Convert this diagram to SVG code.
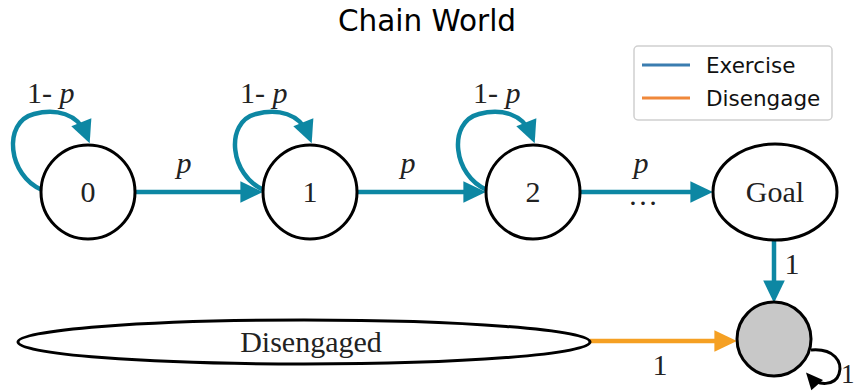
<svg xmlns="http://www.w3.org/2000/svg" width="856" height="392" viewBox="0 0 856 392">
<style>
.node{fill:#fff;stroke:#000;stroke-width:3}
.ex{fill:none;stroke:#0d87a3;stroke-width:4.5}
.dis{fill:none;stroke:#f5a023;stroke-width:4.5}
.blk{fill:none;stroke:#000;stroke-width:3}
.lbl{font-family:"Liberation Serif",serif;font-size:30px;fill:#222}
.it{font-style:italic}
.ttl{font-family:"DejaVu Sans",sans-serif;font-size:29.5px;fill:#000}
.leg{font-family:"DejaVu Sans",sans-serif;font-size:21.5px;fill:#111}
</style>
<defs>
<marker id="ah" markerWidth="6" markerHeight="6" refX="2.8" refY="2.4" orient="auto" markerUnits="strokeWidth" overflow="visible"><path d="M0,0 L5,2.4 L0,4.8 z" fill="#0d87a3"/></marker>
<marker id="ahO" markerWidth="6" markerHeight="6" refX="2.8" refY="2.4" orient="auto" markerUnits="strokeWidth" overflow="visible"><path d="M0,0 L5,2.4 L0,4.8 z" fill="#f5a023"/></marker>
<marker id="ahK" markerWidth="7" markerHeight="7" refX="3.6" refY="2.6" orient="auto" markerUnits="strokeWidth" overflow="visible"><path d="M0,0 L5.6,2.6 L0,5.2 z" fill="#000"/></marker>
</defs>
<text class="ttl" x="427" y="31" text-anchor="middle">Chain World</text>
<g id="connectors">
<path class="ex" d="M135,192 L253,192" marker-end="url(#ah)"/>
<path class="ex" d="M358,192 L476,192" marker-end="url(#ah)"/>
<path class="ex" d="M581,192 L703,192" marker-end="url(#ah)"/>
<path class="ex" d="M42,190 C8,176 2,122 34,114 C56,108 78,114 86,134" marker-end="url(#ah)"/>
<path class="ex" d="M264,190 C230,176 224,122 256,114 C278,108 300,114 308,134" marker-end="url(#ah)"/>
<path class="ex" d="M487,190 C453,176 447,122 479,114 C501,108 523,114 531,134" marker-end="url(#ah)"/>
<path class="ex" d="M774,240 L774,293" marker-end="url(#ah)"/>
<path class="dis" d="M590,341 L727,341" marker-end="url(#ahO)"/>
<path class="blk" d="M811,350 C834,348 843,362 839,374 C835,386 818,386 810,377" marker-end="url(#ahK)"/>
<text class="lbl" x="27" y="103">1- <tspan class="it">p</tspan></text>
<text class="lbl" x="240" y="103">1- <tspan class="it">p</tspan></text>
<text class="lbl" x="473" y="103">1- <tspan class="it">p</tspan></text>
<text class="lbl it" x="184" y="173" text-anchor="middle">p</text>
<text class="lbl it" x="408" y="173" text-anchor="middle">p</text>
<text class="lbl it" x="641" y="173" text-anchor="middle">p</text>
<text class="lbl" x="643" y="205" text-anchor="middle">…</text>
<text class="lbl" x="792" y="274" text-anchor="middle">1</text>
<text class="lbl" x="660" y="375" text-anchor="middle">1</text>
<text class="lbl" x="841" y="383" style="font-size:27px">1</text>
</g>
<g id="n0"><circle class="node" cx="88" cy="192" r="47"/><text class="lbl" x="88" y="202" text-anchor="middle">0</text></g>
<g id="n1"><circle class="node" cx="310" cy="192" r="47"/><text class="lbl" x="310" y="202" text-anchor="middle">1</text></g>
<g id="n2"><circle class="node" cx="533" cy="192" r="47"/><text class="lbl" x="533" y="202" text-anchor="middle">2</text></g>
<g id="goal"><ellipse class="node" cx="775" cy="192" rx="62" ry="48"/><text class="lbl" x="775" y="202" text-anchor="middle">Goal</text></g>
<g id="disengaged"><ellipse class="node" cx="304" cy="342" rx="286" ry="22"/><text class="lbl" x="311" y="352" text-anchor="middle">Disengaged</text></g>
<g id="terminal"><circle class="node" cx="774" cy="339" r="37" style="fill:#c8c8c8"/></g>
<g id="legend">
<rect x="634" y="46" width="198" height="74" rx="4" fill="#fff" stroke="#d0d0d0" stroke-width="1.5"/>
<line x1="642" y1="65" x2="690" y2="65" stroke="#3a7db0" stroke-width="3"/>
<line x1="642" y1="98" x2="690" y2="98" stroke="#f0883a" stroke-width="3"/>
<text class="leg" x="706" y="73">Exercise</text>
<text class="leg" x="706" y="106">Disengage</text>
</g>
</svg>
